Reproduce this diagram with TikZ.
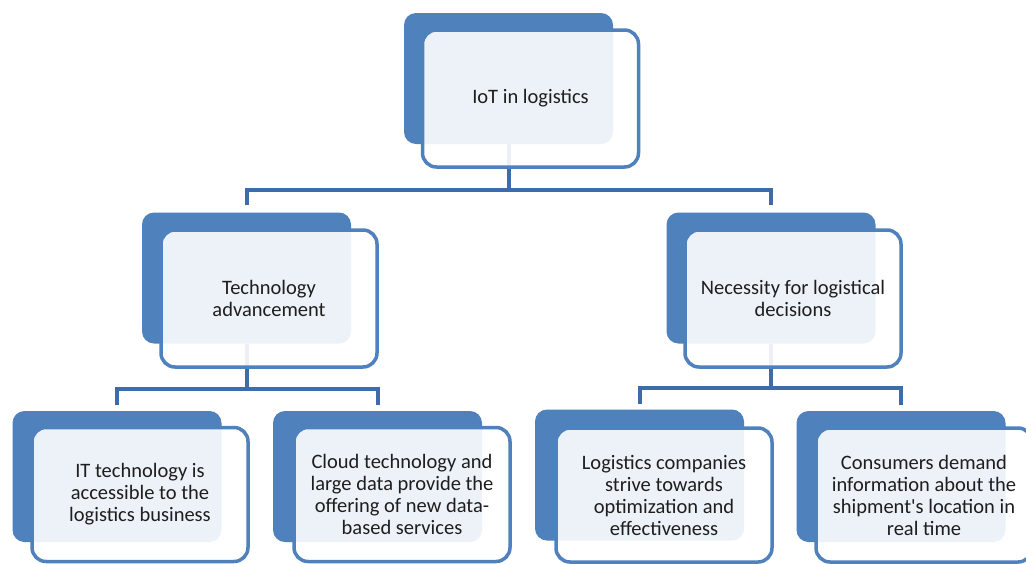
\documentclass[tikz,border=0pt]{standalone}
\usepackage{fontspec}
\setmainfont{Carlito}
\usetikzlibrary{backgrounds,calc}
\definecolor{boxblue}{RGB}{79,129,189}
\definecolor{linkblue}{RGB}{62,108,170}
\definecolor{txt}{RGB}{30,30,30}
\begin{document}
\begin{tikzpicture}[x=1pt,y=-1pt,
  back/.style={fill=boxblue, rounded corners=12pt, minimum width=209pt, minimum height=131pt, inner sep=0pt},
  front/.style={draw=boxblue, line width=3.5pt, fill=white, fill opacity=0.9, text opacity=1,
    rounded corners=14pt, minimum width=216pt, minimum height=137pt, align=center,
    font=\fontsize{20.5}{22}\selectfont, text=txt, inner sep=0pt},
  lowfront/.style={front, minimum height=134pt},
  conn/.style={draw=linkblue, line width=4pt}]
\useasboundingbox (0,0) rectangle (1026,563);
\clip (0,0) rectangle (1026,563);
% top
\node[back] (b0) at (508.5,78.5) {};
\node[front] (f0) at (530.5,98.5) {IoT in logistics};
% middle
\node[back] (bL) at (246.5,278) {};
\node[front] (fL) at (269,298.5) {Technology\\advancement};
\node[back] (bR) at (771,278) {};
\node[front] (fR) at (793,298.5) {Necessity for logistical\\decisions};
% bottom
\node[back] (b1) at (117,476.5) {};
\node[lowfront] (f1) at (140,494.5) {IT technology is\\accessible to the\\logistics business};
\node[back] (b2) at (377.5,476.5) {};
\node[lowfront] (f2) at (402,494.5) {Cloud technology and\\large data provide the\\offering of new data-\\based services};
\node[back] (b3) at (639.5,475) {};
\node[lowfront] (f3) at (664,495) {Logistics companies\\strive towards\\optimization and\\effectiveness};
\node[back] (b4) at (901,476.5) {};
\node[lowfront] (f4) at (924,495) {Consumers demand\\information about the\\shipment\textquotesingle s location in\\real time};
\begin{scope}[on background layer]
  \fill[white] (0,0) rectangle (1026,563);
  \draw[conn] (b0.south) -- ++(0,46);
  \draw[conn] ($(bL.north)+(0,-7)$) |- ($(b0.south)+(0,46)$) -| ($(bR.north)+(0,-7)$);
  \draw[conn] (bL.south) -- ++(0,45);
  \draw[conn] ($(b1.north)+(0,-6)$) |- ($(bL.south)+(0,45)$) -| ($(b2.north)+(0,-6)$);
  \draw[conn] (bR.south) -- ++(0,44);
  \draw[conn] ($(b3.north)+(0,-5)$) |- ($(bR.south)+(0,44)$) -| ($(b4.north)+(0,-6)$);
\end{scope}
\end{tikzpicture}
\end{document}
